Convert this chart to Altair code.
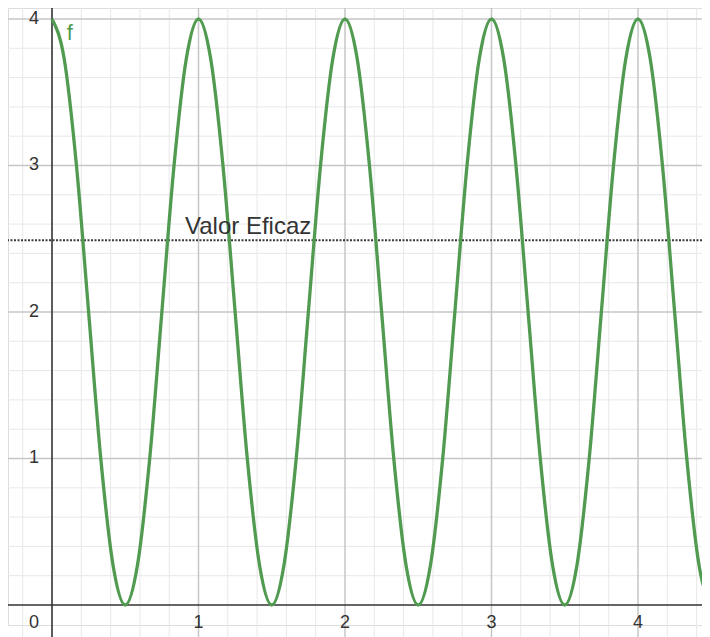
import altair as alt
import pandas as pd

# curve readings f(x)
x_vals = [0, 0.083, 0.167, 0.25, 0.333, 0.417, 0.5, 0.583, 0.667, 0.75, 0.833, 0.917,
          1, 1.083, 1.167, 1.25, 1.333, 1.417, 1.5, 1.583, 1.667, 1.75, 1.833, 1.917,
          2, 2.083, 2.167, 2.25, 2.333, 2.417, 2.5, 2.583, 2.667, 2.75, 2.833, 2.917,
          3, 3.083, 3.167, 3.25, 3.333, 3.417, 3.5, 3.583, 3.667, 3.75, 3.833, 3.917,
          4, 4.083, 4.167, 4.25, 4.333, 4.417, 4.5]
y_vals = [4, 3.73, 3, 2, 1, 0.27, 0, 0.27, 1, 2, 3, 3.73,
          4, 3.73, 3, 2, 1, 0.27, 0, 0.27, 1, 2, 3, 3.73,
          4, 3.73, 3, 2, 1, 0.27, 0, 0.27, 1, 2, 3, 3.73,
          4, 3.73, 3, 2, 1, 0.27, 0, 0.27, 1, 2, 3, 3.73,
          4, 3.73, 3, 2, 1, 0.27, 0]

valor_eficaz = 2.49
valor_label = "Valor Eficaz"
func_label = "f"

x_major = [1, 2, 3, 4]
y_major = [1, 2, 3, 4]
x_minor = [-0.2, 0.2, 0.4, 0.6, 0.8, 1.2, 1.4, 1.6, 1.8, 2.2, 2.4, 2.6, 2.8,
           3.2, 3.4, 3.6, 3.8, 4.2, 4.4]
y_minor = [0.2, 0.4, 0.6, 0.8, 1.2, 1.4, 1.6, 1.8, 2.2, 2.4, 2.6, 2.8,
           3.2, 3.4, 3.6, 3.8]
x_tick_labels = ["1", "2", "3", "4"]
y_tick_labels = ["1", "2", "3", "4"]

X_DOM = [-0.3003, 4.4369]
Y_DOM = [-0.1365, 4.075]
FONT = "Liberation Sans"

xs = alt.Scale(domain=X_DOM, nice=False, zero=False)
ys = alt.Scale(domain=Y_DOM, nice=False, zero=False)

curve_df = pd.DataFrame({"x": x_vals, "y": y_vals})
xmin_df = pd.DataFrame({"v": x_minor})
ymin_df = pd.DataFrame({"v": y_minor})
xmaj_df = pd.DataFrame({"v": x_major, "t": x_tick_labels, "z": [0] * len(x_major)})
ymaj_df = pd.DataFrame({"v": y_major, "t": y_tick_labels, "z": [0] * len(y_major)})
zero_df = pd.DataFrame({"v": [0], "t": ["0"]})
ve_df = pd.DataFrame({"v": [valor_eficaz], "x": [0.908], "t": [valor_label]})
f_df = pd.DataFrame({"x": [0.1], "y": [4], "t": [func_label]})

minor_x = alt.Chart(xmin_df).mark_rule(color="#e8e8e8", strokeWidth=1).encode(
    x=alt.X("v:Q", scale=xs, axis=None), y=alt.value(0), y2=alt.value(629))
minor_y = alt.Chart(ymin_df).mark_rule(color="#e8e8e8", strokeWidth=1, clip=True).encode(
    y=alt.Y("v:Q", scale=ys, axis=None))
major_x = alt.Chart(xmaj_df).mark_rule(color="#c6c6c6", strokeWidth=1.5).encode(
    x=alt.X("v:Q", scale=xs, axis=None), y=alt.value(0), y2=alt.value(629))
major_y = alt.Chart(ymaj_df).mark_rule(color="#c6c6c6", strokeWidth=1.5, clip=True).encode(
    y=alt.Y("v:Q", scale=ys, axis=None))
axis_x = alt.Chart(zero_df).mark_rule(color="#333333", strokeWidth=1.6, clip=True).encode(
    y=alt.Y("v:Q", scale=ys, axis=None))
axis_y = alt.Chart(zero_df).mark_rule(color="#333333", strokeWidth=1.6).encode(
    x=alt.X("v:Q", scale=xs, axis=None), y=alt.value(0), y2=alt.value(629))

ve_line = alt.Chart(ve_df).mark_rule(color="#3a3a3a", strokeWidth=2, strokeDash=[2, 1.5],
                                     clip=True).encode(
    y=alt.Y("v:Q", scale=ys, axis=None))
ve_text = alt.Chart(ve_df).mark_text(font=FONT, fontSize=24, color="#333333", align="left",
                                     baseline="alphabetic", dy=-6).encode(
    x=alt.X("x:Q", scale=xs, axis=None), y=alt.Y("v:Q", scale=ys, axis=None), text="t:N")

curve = alt.Chart(curve_df).mark_line(color="#519b51", strokeWidth=3.3, interpolate="monotone",
                                      clip=True).encode(
    x=alt.X("x:Q", scale=xs, axis=None), y=alt.Y("y:Q", scale=ys, axis=None))

f_text = alt.Chart(f_df).mark_text(font=FONT, fontSize=22, color="#519b51", align="left",
                                   baseline="alphabetic", dy=21).encode(
    x=alt.X("x:Q", scale=xs, axis=None), y=alt.Y("y:Q", scale=ys, axis=None), text="t:N")

xlab = alt.Chart(xmaj_df).mark_text(
    font=FONT, fontSize=18, color="#333333", align="center", baseline="middle", dy=17.5).encode(
    x=alt.X("v:Q", scale=xs, axis=None), y=alt.Y("z:Q", scale=ys, axis=None), text="t:N")
ylab = alt.Chart(ymaj_df).mark_text(
    font=FONT, fontSize=18, color="#333333", align="right", baseline="middle", dx=-13).encode(
    x=alt.X("z:Q", scale=xs, axis=None), y=alt.Y("v:Q", scale=ys, axis=None), text="t:N")
zlab = alt.Chart(zero_df).mark_text(
    font=FONT, fontSize=18, color="#333333", align="right", baseline="middle", dx=-13, dy=17.5).encode(
    x=alt.X("v:Q", scale=xs, axis=None), y=alt.Y("v:Q", scale=ys, axis=None), text="t:N")

chart = alt.layer(
    minor_x, minor_y, major_x, major_y, ve_line, axis_x, axis_y,
    curve, ve_text, f_text, xlab, ylab, zlab
).properties(width=694, height=617,
             padding={"left": 0, "top": 0, "right": 0, "bottom": 12},
             autosize=alt.AutoSizeParams(type="none")).configure_view(stroke=None).configure(
    background="white")

chart.save("out.html", embed_options={"renderer": "svg", "actions": False})
